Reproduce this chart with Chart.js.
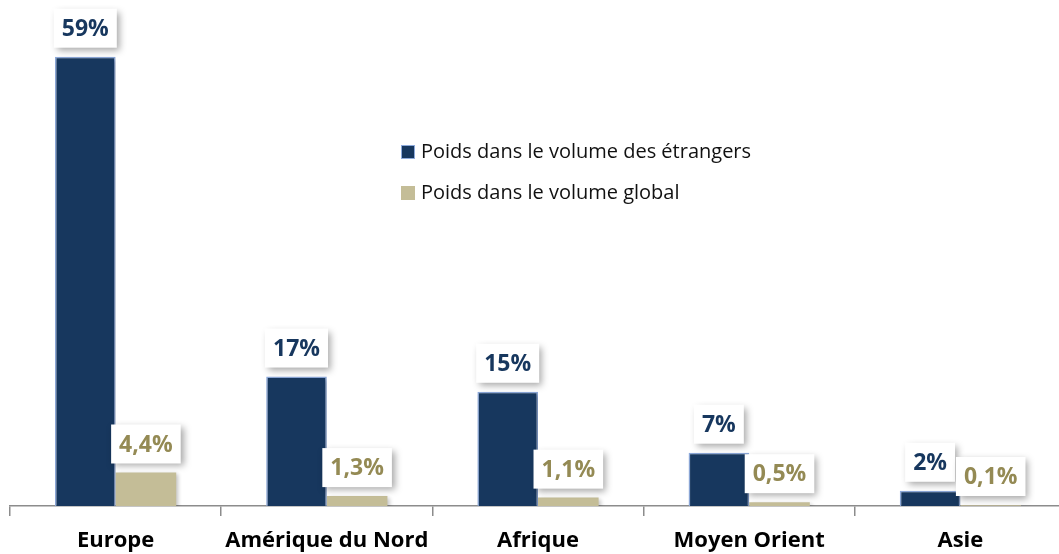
<!DOCTYPE html>
<html>
<head>
<meta charset="utf-8">
<script src="https://cdn.jsdelivr.net/npm/chart.js@4"></script>
<style>
  html, body { margin: 0; padding: 0; background: #fff; overflow: hidden; }
  #outer { width: 1059px; height: 554px; overflow: hidden; position: relative; }
  #wrap { width: 1066px; height: 554px; position: absolute; left: 0; top: 0; }
</style>
</head>
<body>
<div id="outer"><div id="wrap"><canvas id="c"></canvas></div></div>
<script>
const categories = ['Europe', 'Amérique du Nord', 'Afrique', 'Moyen Orient', 'Asie'];
const seriesNames = ['Poids dans le volume des étrangers', 'Poids dans le volume global'];
const etrangers = [59, 17, 15, 7, 2];
const global = [4.4, 1.3, 1.1, 0.5, 0.1];
const labelsEtrangers = ['59%', '17%', '15%', '7%', '2%'];
const labelsGlobal = ['4,4%', '1,3%', '1,1%', '0,5%', '0,1%'];

const NAVY = '#17375E';
const NAVY_BORDER = '#8EAADB';
const TAN = '#C4BD97';
const TAN_TEXT = '#948A54';
const FONT = '"Open Sans", "DejaVu Sans", sans-serif';

const barShadow = {
  id: 'barShadow',
  beforeDatasetDraw(chart) {
    const ctx = chart.ctx;
    ctx.save();
    ctx.shadowColor = 'rgba(0,0,0,0.25)';
    ctx.shadowBlur = 4;
    ctx.shadowOffsetX = 2;
    ctx.shadowOffsetY = 2;
  },
  afterDatasetDraw(chart) {
    chart.ctx.restore();
  }
};

const boxLabels = {
  id: 'boxLabels',
  afterDatasetsDraw(chart) {
    const ctx = chart.ctx;
    const sets = [
      { texts: labelsEtrangers, color: NAVY },
      { texts: labelsGlobal, color: TAN_TEXT }
    ];
    ctx.save();
    ctx.font = 'bold 23px ' + FONT;
    sets.forEach((s, di) => {
      const meta = chart.getDatasetMeta(di);
      meta.data.forEach((bar, i) => {
        const txt = s.texts[i];
        const tw = ctx.measureText(txt).width;
        const w = tw + 16;
        const h = 39;
        const bottom = Math.min(bar.y, chart.chartArea.bottom - 1) - 9;
        const x = bar.x - w / 2;
        const y = bottom - h;
        ctx.save();
        ctx.shadowColor = 'rgba(0,0,0,0.35)';
        ctx.shadowBlur = 7;
        ctx.shadowOffsetX = 3;
        ctx.shadowOffsetY = 3;
        ctx.fillStyle = '#fff';
        ctx.fillRect(x, y, w, h);
        ctx.restore();
        ctx.fillStyle = s.color;
        ctx.textAlign = 'center';
        ctx.textBaseline = 'middle';
        ctx.fillText(txt, bar.x, y + h / 2 + 1);
      });
    });
    ctx.restore();
  }
};

const customLegend = {
  id: 'customLegend',
  afterDraw(chart) {
    const ctx = chart.ctx;
    const items = [
      { y: 152, fill: NAVY, stroke: NAVY_BORDER },
      { y: 193, fill: TAN, stroke: null }
    ];
    ctx.save();
    ctx.font = '20px ' + FONT;
    ctx.textBaseline = 'middle';
    ctx.textAlign = 'left';
    items.forEach((it, i) => {
      ctx.fillStyle = it.fill;
      ctx.fillRect(401, it.y - 7, 14, 14);
      if (it.stroke) {
        ctx.strokeStyle = it.stroke;
        ctx.lineWidth = 1;
        ctx.strokeRect(401.5, it.y - 6.5, 13, 13);
      }
      ctx.fillStyle = '#111';
      ctx.fillText(chart.data.datasets[i].label, 421, it.y);
    });
    ctx.restore();
  }
};

new Chart(document.getElementById('c'), {
  type: 'bar',
  data: {
    labels: categories,
    datasets: [
      {
        label: seriesNames[0],
        data: etrangers,
        backgroundColor: NAVY,
        borderColor: NAVY_BORDER,
        borderWidth: 1.5,
        categoryPercentage: 0.574,
        barPercentage: 1.0
      },
      {
        label: seriesNames[1],
        data: global,
        backgroundColor: TAN,
        borderWidth: 0,
        categoryPercentage: 0.574,
        barPercentage: 1.0
      }
    ]
  },
  options: {
    responsive: true,
    maintainAspectRatio: false,
    animation: false,
    layout: { padding: { left: 10, right: 0, top: 11, bottom: 0 } },
    plugins: {
      legend: { display: false },
      tooltip: { enabled: false }
    },
    scales: {
      x: {
        grid: {
          offset: true,
          drawOnChartArea: false,
          drawTicks: true,
          tickLength: 10,
          color: '#8c8c8c',
          lineWidth: 1.5
        },
        border: { display: true, color: '#8c8c8c', width: 1.5 },
        ticks: {
          color: '#000',
          font: { family: FONT, size: 22, weight: 'bold' },
          padding: 12,
          maxRotation: 0,
          autoSkip: false
        },
        afterFit(scale) { scale.height = 48; }
      },
      y: {
        display: false,
        min: 0,
        max: 65
      }
    }
  },
  plugins: [barShadow, boxLabels, customLegend]
});
</script>
</body>
</html>
